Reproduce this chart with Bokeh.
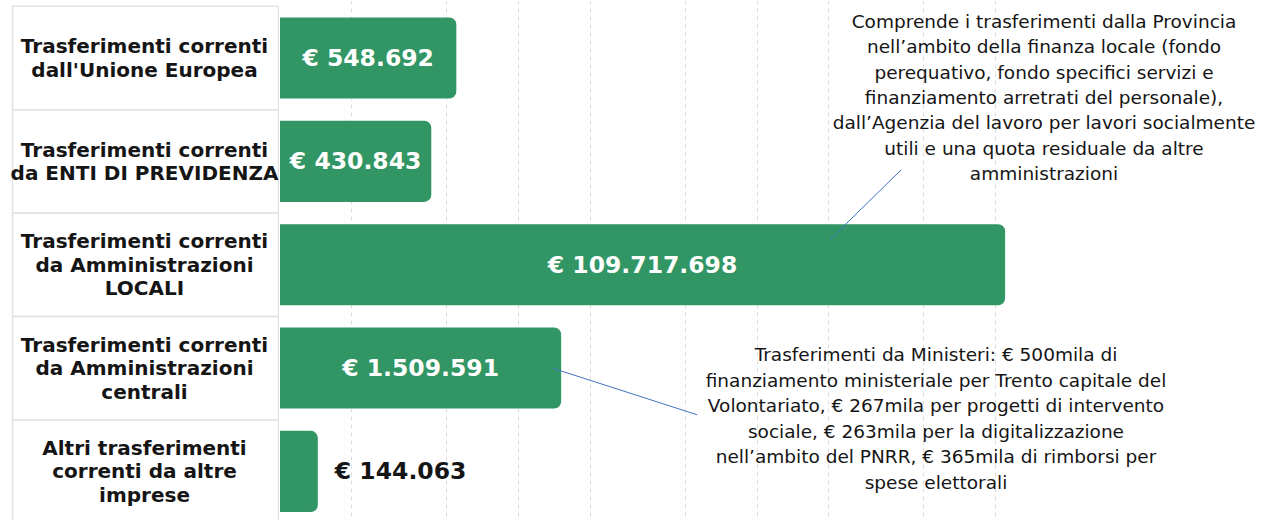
import numpy as np
from bokeh.plotting import figure
from bokeh.layouts import row
from bokeh.models import Range1d, FixedTicker, ColumnDataSource, Grid
from bokeh.core.properties import value
from bokeh.embed import file_html
from bokeh.resources import INLINE

# ---------------- data ----------------
categories = [
    "Trasferimenti correnti\ndall'Unione Europea",
    "Trasferimenti correnti\nda ENTI DI PREVIDENZA",
    "Trasferimenti correnti\nda Amministrazioni\nLOCALI",
    "Trasferimenti correnti\nda Amministrazioni\ncentrali",
    "Altri trasferimenti\ncorrenti da altre\nimprese",
]
amounts = [548692, 430843, 109717698, 1509591, 144063]
value_labels = ["€ 548.692", "€ 430.843", "€ 109.717.698", "€ 1.509.591", "€ 144.063"]
grid_ticks = [2e5, 5e5, 1e6, 2e6, 5e6, 1e7, 2e7, 5e7, 1e8]

note_locali = ("Comprende i trasferimenti dalla Provincia\n"
               "nell’ambito della finanza locale (fondo\n"
               "perequativo, fondo specifici servizi e\n"
               "finanziamento arretrati del personale),\n"
               "dall’Agenzia del lavoro per lavori socialmente\n"
               "utili e una quota residuale da altre\n"
               "amministrazioni")
note_centrali = ("Trasferimenti da Ministeri: € 500mila di\n"
                 "finanziamento ministeriale per Trento capitale del\n"
                 "Volontariato, € 267mila per progetti di intervento\n"
                 "sociale, € 263mila per la digitalizzazione\n"
                 "nell’ambito del PNRR, € 365mila di rimborsi per\n"
                 "spese elettorali")

# ---------------- layout / style ----------------
GREEN = "#329664"
FONT = "DejaVu Sans"
H = 520
LEFT_W = 279
RIGHT_W = 993
BASE = 1e5          # bars start here (log axis)
PX_BASE = 279.5     # pixel of BASE
PPD = 238.5         # pixels per decade
ROW0 = 57.5         # pixel of first row centre
ROW_H = 103.35      # row pitch in pixels


def x_at(px):
    return BASE * 10 ** ((px - PX_BASE) / PPD)


def y_at(py):
    return (py - ROW0) / ROW_H


idx = list(range(len(categories)))
y_range = Range1d(start=y_at(H), end=y_at(0))

# ---------------- left: label table ----------------
left = figure(width=LEFT_W, height=H, x_range=Range1d(0, LEFT_W), y_range=y_range,
              output_backend="svg", toolbar_location=None, min_border=0,
              x_axis_location=None, y_axis_location=None)
left.grid.visible = False
left.outline_line_color = None

cells = ColumnDataSource(dict(top=[i - 0.5 for i in idx], bottom=[i + 0.5 for i in idx]))
left.quad(left=12, right=278, top="top", bottom="bottom", source=cells,
          fill_color=None, line_color="#e3e3e3", line_width=1.5)
left.text(x=144, y=idx, text=categories, text_align="center", text_baseline="middle",
          text_font=value(FONT), text_font_style="bold", text_font_size="20px",
          text_line_height=0.98, text_color="#151515")

# ---------------- right: bars ----------------
p = figure(width=RIGHT_W, height=H, x_axis_type="log",
           x_range=Range1d(x_at(LEFT_W), x_at(LEFT_W + RIGHT_W)), y_range=y_range,
           output_backend="svg", toolbar_location=None, min_border=0,
           x_axis_location=None, y_axis_location=None)
p.grid.visible = False
p.outline_line_color = None
p.add_layout(Grid(dimension=0, ticker=FixedTicker(ticks=grid_ticks),
                  grid_line_color="#dcdcdc", grid_line_dash="4 4", grid_line_width=1))

bars = ColumnDataSource(dict(y=idx, right=amounts))
p.hbar(y="y", left=BASE, right="right", height=0.785, source=bars,
       fill_color=GREEN, line_color=None, border_radius=(0, 7, 7, 0))

inside = [PPD * np.log10(v / BASE) > 80 for v in amounts]
src_in = ColumnDataSource(dict(
    x=[np.sqrt(BASE * v) for v, f in zip(amounts, inside) if f],
    y=[i for i, f in zip(idx, inside) if f],
    t=[t for t, f in zip(value_labels, inside) if f]))
src_out = ColumnDataSource(dict(
    x=[v for v, f in zip(amounts, inside) if not f],
    y=[i for i, f in zip(idx, inside) if not f],
    t=[t for t, f in zip(value_labels, inside) if not f]))

p.text(x="x", y="y", text="t", source=src_in, text_align="center", text_baseline="middle",
       text_font=value(FONT), text_font_style="bold", text_font_size="23.5px", text_color="white")
p.text(x="x", y="y", text="t", source=src_out, x_offset=17, text_align="left",
       text_baseline="middle", text_font=value(FONT), text_font_style="bold",
       text_font_size="23.5px", text_color="#151515")

# connector lines
p.segment(x0=[x_at(900.7), x_at(553)], y0=[y_at(169.3), y_at(368)],
          x1=[x_at(829.3), x_at(696.7)], y1=[y_at(239.3), y_at(414.3)],
          line_color="#4472C4", line_width=1)

# notes
p.text(x=[x_at(1043.5), x_at(935.5)], y=[y_at(97), y_at(418)],
       text=[note_locali, note_centrali], text_align="center", text_baseline="middle",
       text_font=value(FONT), text_font_size="18.5px", text_line_height=1.21,
       text_color="#151515")

layout = row(left, p)
open("out.html", "w").write(file_html(layout, INLINE))
